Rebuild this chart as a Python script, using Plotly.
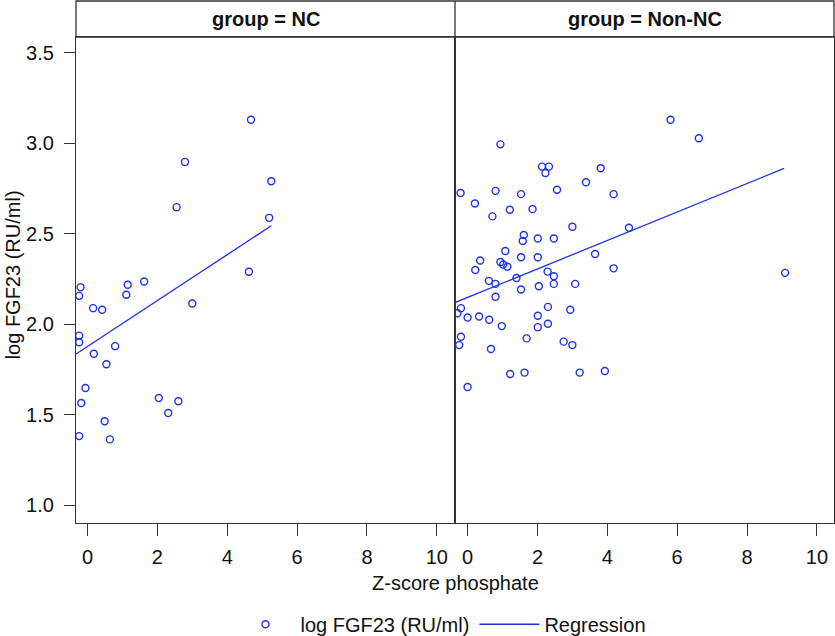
import plotly.graph_objects as go

# ---- data ----
nc_x = [4.68, 2.79, 5.26, 2.55, 5.20, 4.62, -0.20, -0.24, 1.15, 1.11, 1.62, 0.16, 0.42, 3.00,
        -0.24, -0.24, 0.18, 0.79, 0.54, -0.06, -0.18, 2.04, 2.60, 2.31, 0.49, -0.24, 0.64]
nc_y = [3.13, 2.897, 2.79, 2.647, 2.588, 2.29, 2.204, 2.157, 2.218, 2.163, 2.236, 2.089, 2.080, 2.115,
        1.937, 1.901, 1.837, 1.879, 1.779, 1.648, 1.565, 1.593, 1.575, 1.51, 1.464, 1.382, 1.364]

non_x = [0.94, 2.13, 2.33, 2.23, 3.81, 3.39, -0.20, 0.80, 1.53, 2.56, 4.18, 0.21, 1.21, 1.86, 0.71,
         3.00, 4.62, 1.61, 1.58, 2.01, 2.47, 1.08, 1.53, 2.01, 3.65, 0.36, 0.94, 1.02, 1.14, 0.22,
         4.18, 2.29, 2.47, 0.61, 0.80, 1.40, 2.47, 3.08, 2.04, 1.53, 0.80, -0.19, -0.29, 0.00, 0.33,
         0.62, 2.30, 2.94, 2.01, 0.98, 2.01, 2.30, -0.19, -0.24, 1.69, 2.75, 3.00, 0.67, 1.22, 1.63,
         3.21, 3.93, 0.00, 5.81, 6.62, 9.09]
non_y = [2.994, 2.871, 2.871, 2.836, 2.862, 2.785, 2.725, 2.737, 2.719, 2.743, 2.719, 2.667, 2.633,
         2.636, 2.596, 2.539, 2.533, 2.493, 2.46, 2.474, 2.474, 2.405, 2.37, 2.37, 2.388, 2.352,
         2.344, 2.33, 2.318, 2.30, 2.309, 2.291, 2.265, 2.24, 2.223, 2.256, 2.223, 2.223, 2.21,
         2.192, 2.152, 2.089, 2.061, 2.037, 2.043, 2.025, 2.096, 2.08, 2.047, 1.99, 1.984, 2.003,
         1.931, 1.885, 1.922, 1.904, 1.885, 1.863, 1.725, 1.733, 1.733, 1.742, 1.653, 3.13, 3.028,
         2.284]

nc_reg_x = [-0.33, 5.26]
nc_reg_y = [1.836, 2.544]
non_reg_x = [-0.36, 9.06]
non_reg_y = [2.120, 2.861]

panel_titles = ["group = NC", "group = Non-NC"]
x_ticks = [0, 2, 4, 6, 8, 10]
y_ticks = [1.0, 1.5, 2.0, 2.5, 3.0, 3.5]
y_tick_text = ["1.0", "1.5", "2.0", "2.5", "3.0", "3.5"]

# ---- style ----
BLUE = "#1E32E6"
FRAME = "#333333"
FONT = "Liberation Sans, Arial, Helvetica, sans-serif"
FS = 20

fig = go.Figure()

marker = dict(symbol="circle-open", size=7, color=BLUE, line=dict(width=1.4, color=BLUE))

fig.add_trace(go.Scatter(x=nc_x, y=nc_y, mode="markers", marker=marker,
                         name="log FGF23 (RU/ml)", legendgroup="pts", showlegend=True,
                         xaxis="x", yaxis="y"))
fig.add_trace(go.Scatter(x=nc_reg_x, y=nc_reg_y, mode="lines", line=dict(color=BLUE, width=1.3),
                         name="Regression", legendgroup="reg", showlegend=True,
                         xaxis="x", yaxis="y"))
fig.add_trace(go.Scatter(x=non_x, y=non_y, mode="markers", marker=marker,
                         name="log FGF23 (RU/ml)", legendgroup="pts", showlegend=False,
                         xaxis="x2", yaxis="y2"))
fig.add_trace(go.Scatter(x=non_reg_x, y=non_reg_y, mode="lines", line=dict(color=BLUE, width=1.3),
                         name="Regression", legendgroup="reg", showlegend=False,
                         xaxis="x2", yaxis="y2"))

ytop = 0.931
axis_common = dict(showgrid=False, zeroline=False, showline=True, mirror=True,
                   linecolor=FRAME, linewidth=1.3, automargin=False)

fig.update_layout(
    width=835, height=636,
    margin=dict(l=76, r=1, t=1, b=113, autoexpand=False),
    paper_bgcolor="white", plot_bgcolor="white",
    font=dict(family=FONT, size=FS, color="#111111"),
    xaxis=dict(domain=[0, 0.5], range=[-0.33, 10.52], tickvals=x_ticks,
               ticks="outside", ticklen=12, tickcolor=FRAME, tickwidth=1.3,
               ticklabelstandoff=4, anchor="y", **axis_common),
    xaxis2=dict(domain=[0.5, 1], range=[-0.36, 10.49], tickvals=x_ticks,
                ticks="outside", ticklen=12, tickcolor=FRAME, tickwidth=1.3,
                ticklabelstandoff=4, anchor="y2", **axis_common),
    yaxis=dict(domain=[0, ytop], range=[0.902, 3.587], tickvals=y_ticks, ticktext=y_tick_text,
               ticks="outside", ticklen=11, tickcolor=FRAME, tickwidth=1.3,
               ticklabelstandoff=6, anchor="x", **axis_common),
    yaxis2=dict(domain=[0, ytop], range=[0.902, 3.587], tickvals=y_ticks,
                showticklabels=False, ticks="", anchor="x2", **axis_common),
    legend=dict(orientation="h", x=0.4815, xanchor="center", y=-0.194, yanchor="middle",
                font=dict(size=FS), itemwidth=60, tracegroupgap=0,
                bgcolor="rgba(0,0,0,0)"),
    showlegend=True,
)

# header strip
fig.add_shape(type="rect", xref="paper", yref="paper", x0=0, x1=1, y0=ytop, y1=1,
              line=dict(color=FRAME, width=1.3), fillcolor="rgba(0,0,0,0)")
fig.add_shape(type="line", xref="paper", yref="paper", x0=0.5, x1=0.5, y0=ytop, y1=1,
              line=dict(color=FRAME, width=1.3))
for i, t in enumerate(panel_titles):
    fig.add_annotation(text="<b>%s</b>" % t, xref="paper", yref="paper",
                       x=0.25 + 0.5 * i, y=(ytop + 1) / 2, xanchor="center", yanchor="middle",
                       showarrow=False, font=dict(size=20, family=FONT, color="#111111"))

# axis titles
fig.add_annotation(text="Z-score phosphate", xref="paper", yref="paper", x=0.5, y=-0.1156,
                   xanchor="center", yanchor="middle", showarrow=False, font=dict(size=FS))
fig.add_annotation(text="log FGF23 (RU/ml)", xref="paper", yref="paper", x=-0.0827, y=0.475,
                   xanchor="center", yanchor="middle", textangle=-90, showarrow=False,
                   font=dict(size=FS))

fig.write_html("out.html", config={"displayModeBar": False},
               post_script="document.body.style.margin='0';")
